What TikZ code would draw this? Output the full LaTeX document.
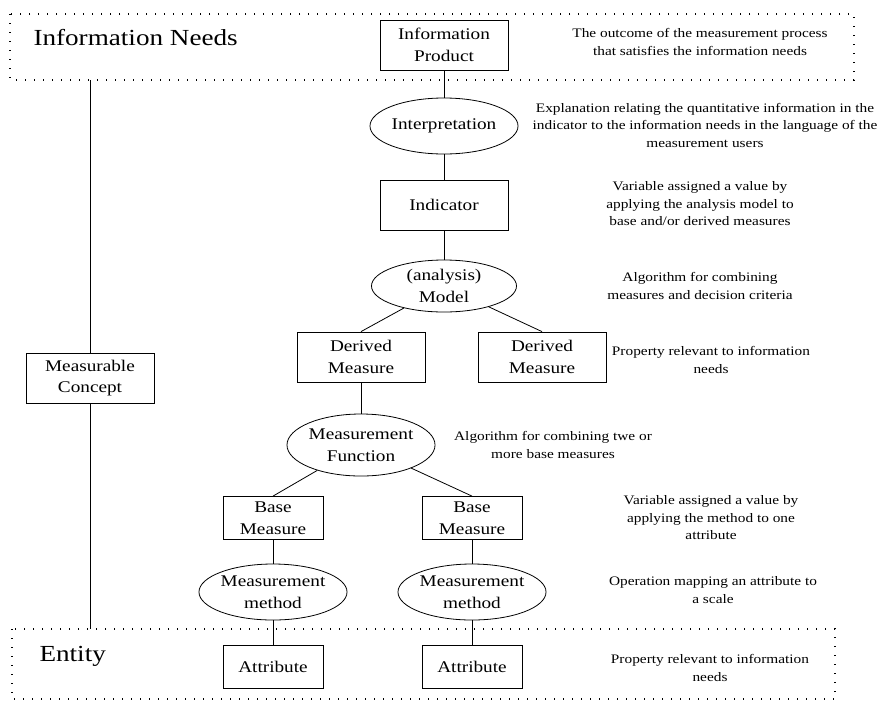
\documentclass[tikz,border=0pt]{standalone}
\usepackage{fontspec}
\setmainfont{Liberation Serif}[FakeStretch=1.18]
\usetikzlibrary{shapes.geometric}
\begin{document}
\begin{tikzpicture}[x=1pt,y=-1pt,
  box/.style={draw, line width=0.8pt, minimum width=128pt, minimum height=50pt, align=center, inner sep=0pt, font=\fontsize{16.3}{21.5}\selectfont},
  sbox/.style={box, minimum width=100pt, minimum height=43pt},
  ell/.style={draw, ellipse, line width=0.8pt, align=center, inner sep=0pt, font=\fontsize{16.3}{21.5}\selectfont},
  desc/.style={align=center, font=\fontsize{13}{17.5}\selectfont},
  big/.style={font=\fontsize{23}{28}\selectfont, anchor=west},
  region/.style={draw, line width=1.3pt, dash pattern=on 1.3pt off 7.7pt},
  conn/.style={draw, line width=0.8pt}]
\useasboundingbox (0,0) rectangle (882,702);
% regions
\draw[region] (10,14) rectangle (854,80);
\draw[region] (12,629) rectangle (835,699);
\node[big] (infoneeds) at (30,38) {Information Needs};
\node[big] (entity) at (36,656) {Entity};
% main nodes
\node[box] (ip) at (444,45) {Information\\Product};
\node[ell, minimum width=128pt, minimum height=56pt] (interp) at (444,126) {Interpretation};
\node[box] (ind) at (444,205) {Indicator};
\node[ell, minimum width=145pt, minimum height=52pt] (model) at (444,286) {(analysis)\\Model};
\node[box] (dl) at (361,357) {Derived\\Measure};
\node[box] (dr) at (542,357) {Derived\\Measure};
\node[ell, minimum width=145pt, minimum height=62pt] (mf) at (361,445) {Measurement\\Function};
\node[sbox] (bl) at (273,518) {Base\\Measure};
\node[sbox] (br) at (472,518) {Base\\Measure};
\node[ell, minimum width=145pt, minimum height=56pt] (mml) at (273,592) {Measurement\\method};
\node[ell, minimum width=145pt, minimum height=56pt] (mmr) at (472,592) {Measurement\\method};
\node[sbox] (al) at (273,667) {Attribute};
\node[sbox] (ar) at (472,667) {Attribute};
\node[box] (mc) at (90,378) {Measurable\\Concept};
% descriptions
\node[desc] (d1) at (700,42) {The outcome of the measurement process\\that satisfies the information needs};
\node[desc] (d2) at (705,125) {Explanation relating the quantitative information in the\\indicator to the information needs in the language of the\\measurement users};
\node[desc] (d3) at (700,204) {Variable assigned a value by\\applying the analysis model to\\base and/or derived measures};
\node[desc] (d4) at (700,286) {Algorithm for combining\\measures and decision criteria};
\node[desc] (d5) at (711,360) {Property relevant to information\\needs};
\node[desc] (d6) at (553,445) {Algorithm for combining twe or\\more base measures};
\node[desc] (d7) at (711,518) {Variable assigned a value by\\applying the method to one\\attribute};
\node[desc] (d8) at (713,590) {Operation mapping an attribute to\\a scale};
\node[desc] (d9) at (710,668) {Property relevant to information\\needs};
% connectors
\coordinate (ctop) at (90,80);
\coordinate (cbot) at (90,629);
\draw[conn] (ctop) -- (mc) -- (cbot);
\draw[conn] (ip) -- (interp);
\draw[conn] (interp) -- (ind);
\draw[conn] (ind) -- (model);
\draw[conn] (model) -- (dl.north);
\draw[conn] (model) -- (dr.north);
\draw[conn] (dl) -- (mf);
\draw[conn] (mf) -- (bl.north);
\draw[conn] (mf) -- (br.north);
\draw[conn] (bl) -- (mml);
\draw[conn] (br) -- (mmr);
\draw[conn] (mml) -- (al);
\draw[conn] (mmr) -- (ar);
\end{tikzpicture}
\end{document}
